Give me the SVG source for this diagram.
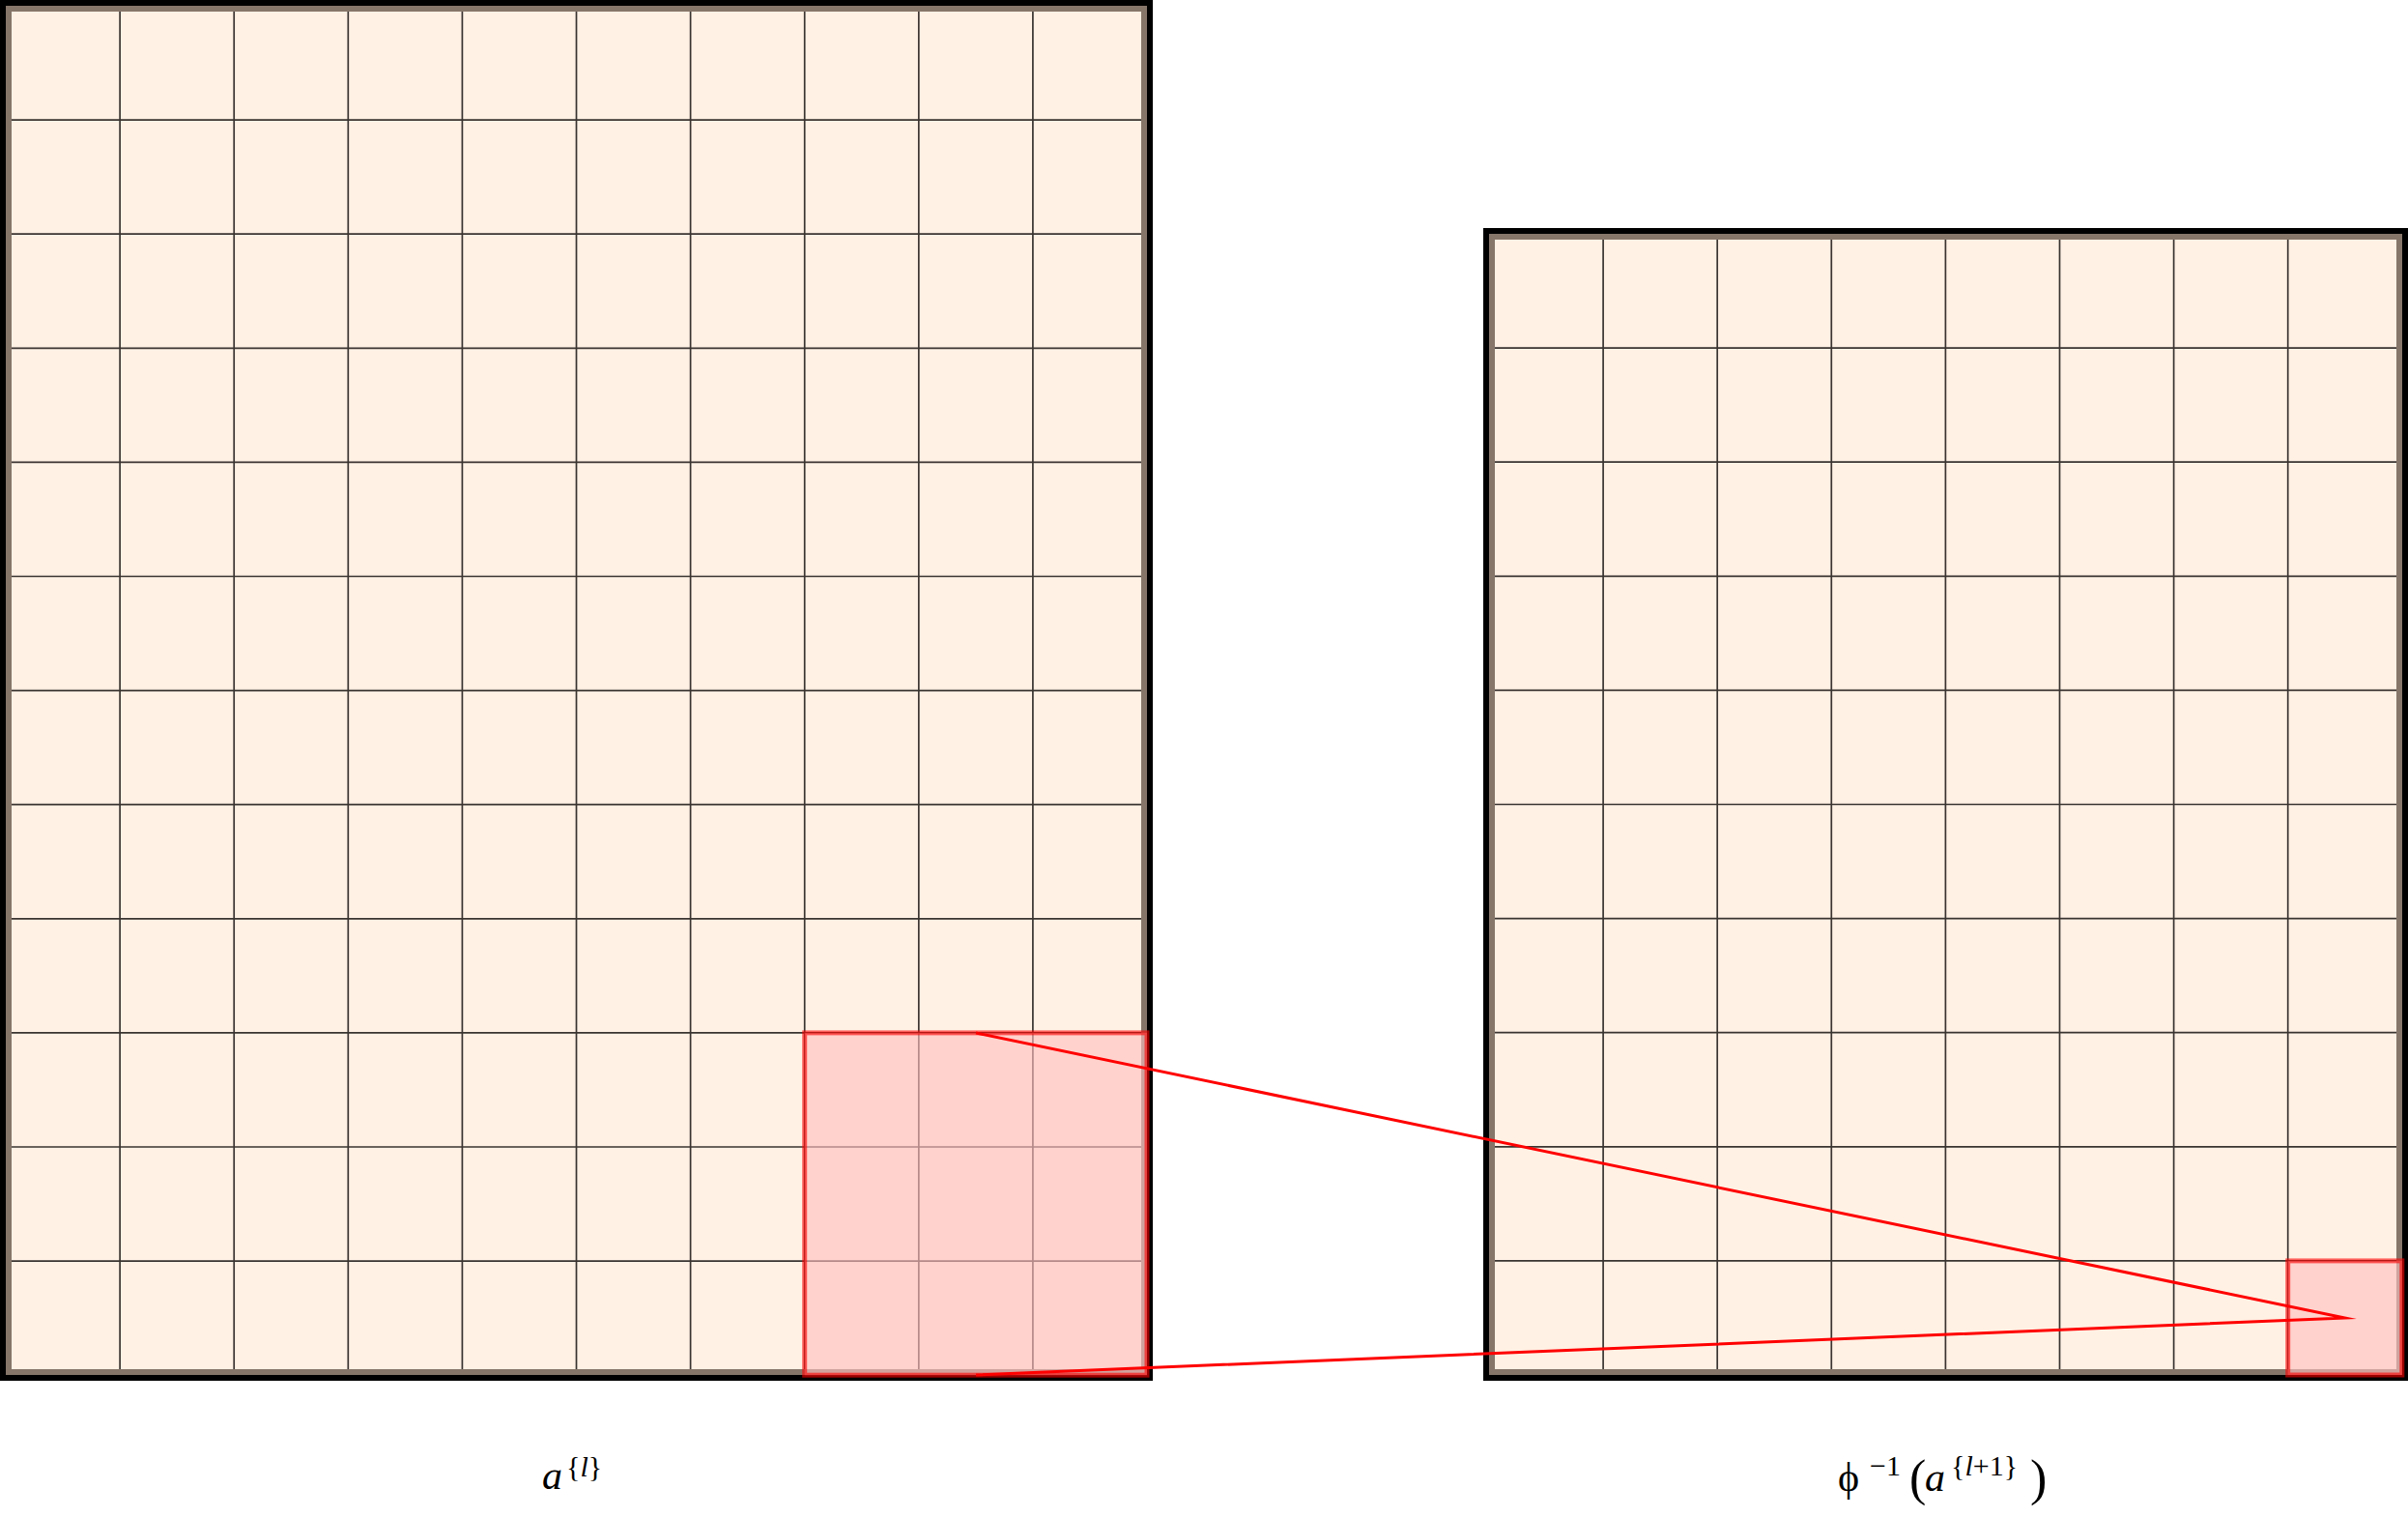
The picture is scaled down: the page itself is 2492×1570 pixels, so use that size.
<svg xmlns="http://www.w3.org/2000/svg" width="2492" height="1570" viewBox="0 0 2492 1570">
<style>
.fill{fill:#fff1e4;stroke:none}
.grid{fill:none;stroke:#3a3431;stroke-width:1.7}
.band{fill:none;stroke:#86766a;stroke-width:6}
.frame{fill:none;stroke:#000;stroke-width:6}
.sel{fill:#ffbfbf;fill-opacity:0.62;stroke:#ff0000;stroke-opacity:0.6;stroke-width:5}
.conn{fill:none;stroke:#ff0000;stroke-width:3;stroke-linejoin:miter;stroke-miterlimit:10}
.lbl{font-family:"Liberation Serif","DejaVu Serif",serif;fill:#000}
</style>
<rect width="2492" height="1570" fill="#ffffff"/>
<g id="grid-left">
<rect class="fill" x="6" y="6" width="1181" height="1417"/>
<path class="grid" d="M124.1,6V1423M242.2,6V1423M360.3,6V1423M478.4,6V1423M596.5,6V1423M714.6,6V1423M832.7,6V1423M950.8,6V1423M1068.9,6V1423M6,124.1H1187M6,242.2H1187M6,360.3H1187M6,478.4H1187M6,596.5H1187M6,714.6H1187M6,832.7H1187M6,950.8H1187M6,1068.9H1187M6,1187H1187M6,1305.1H1187"/>
<rect class="band" x="9" y="9" width="1175" height="1411"/>
<rect class="frame" x="3" y="3" width="1187" height="1423"/>
<rect class="sel" x="832.7" y="1068.9" width="354.3" height="354.3"/>
<text class="lbl" x="561" y="1541" font-size="42"><tspan font-style="italic">a</tspan><tspan x="586" y="1528" font-size="30">{</tspan><tspan font-size="30" font-style="italic">l</tspan><tspan font-size="30">}</tspan></text>
</g>
<g id="grid-right">
<rect class="fill" x="1541" y="242" width="945" height="1181"/>
<path class="grid" d="M1659.1,242V1423M1777.2,242V1423M1895.3,242V1423M2013.4,242V1423M2131.5,242V1423M2249.6,242V1423M2367.7,242V1423M1541,360.1H2486M1541,478.2H2486M1541,596.3H2486M1541,714.4H2486M1541,832.5H2486M1541,950.6H2486M1541,1068.7H2486M1541,1186.8H2486M1541,1304.9H2486"/>
<rect class="band" x="1544" y="245" width="939" height="1175"/>
<rect class="frame" x="1538" y="239" width="951" height="1187"/>
<rect class="sel" x="2367.7" y="1304.9" width="118.1" height="118.1"/>
<text class="lbl" x="1902" y="1543" font-size="42">ϕ<tspan x="1935" y="1527" font-size="30">−1</tspan><tspan x="1976" y="1547" font-size="52">(</tspan><tspan x="1992" y="1543" font-size="42" font-style="italic">a</tspan><tspan x="2019" y="1527" font-size="30">{</tspan><tspan font-size="30" font-style="italic">l</tspan><tspan font-size="30">+1}</tspan><tspan x="2101" y="1547" font-size="52">)</tspan></text>
</g>
<g id="connectors">
<path class="conn" d="M1010,1069L2426.8,1364L1010,1423"/>
</g>
</svg>
